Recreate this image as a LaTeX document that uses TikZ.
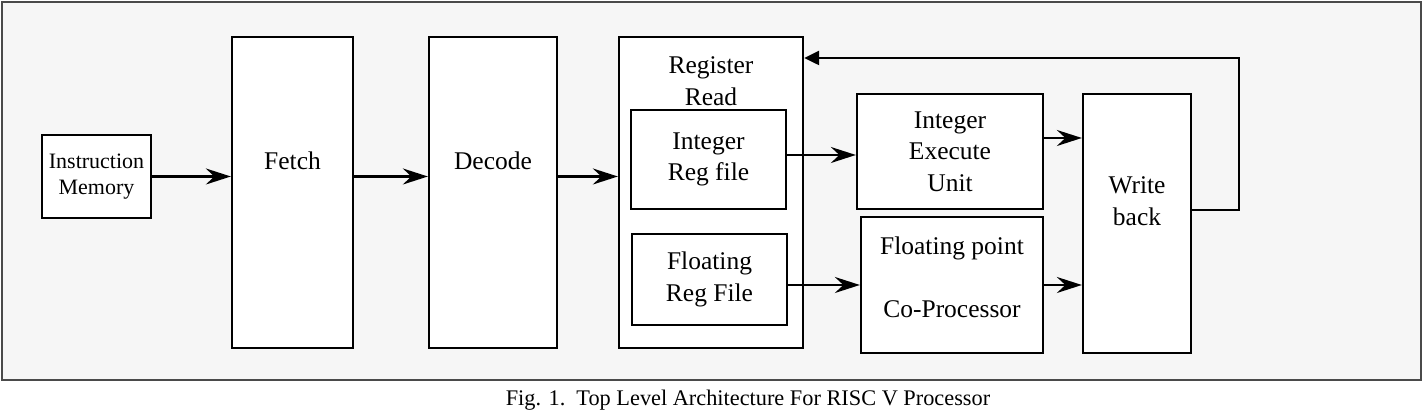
\documentclass[tikz,border=0pt]{standalone}
\usepackage{fontspec}
\setmainfont{Liberation Serif}
\usepackage{tikz}
\usetikzlibrary{arrows.meta}

\definecolor{panelgray}{HTML}{F6F6F6}
\definecolor{framegray}{HTML}{4A4A4A}

\begin{document}
\begin{tikzpicture}
		% Define box and arrow styles
		\tikzset{blk/.style={draw, fill=white, line width=1.3pt, inner sep=0pt, font=\fontsize{14.5}{18}\selectfont, align=center},
			txt/.style={font=\fontsize{14.5}{18}\selectfont, align=center},
			fwd/.style={line width=1.3pt, -{Stealth[length=0.5cm, width=0.32cm, inset=0.17cm]}},
			back/.style={line width=1.3pt, -{Triangle[length=0.3cm, width=0.28cm]}}}
		
		% Fix the size of the picture
		\useasboundingbox (0,0) rectangle (28.44,8.24);
		
		% Draw the grey panel
		\draw[framegray, fill=panelgray, line width=0.9pt] (0.04,0.64) rectangle (28.42,8.20);
		
		% Draw the pipeline boxes
		\node[blk, minimum width=2.18cm, minimum height=1.66cm, font=\fontsize{12.5}{14.8}\selectfont] (imem) at (1.93,4.71) {Instruction\\Memory};
		\node[blk, minimum width=2.42cm, minimum height=6.22cm] (fetch) at (5.85,4.39) {};
		\node[blk, minimum width=2.56cm, minimum height=6.22cm] (decode) at (9.86,4.39) {};
		\node[blk, minimum width=3.68cm, minimum height=6.22cm] (regread) at (14.22,4.39) {};
		\node[blk, minimum width=3.10cm, minimum height=1.98cm] (intreg) at (14.17,5.05) {Integer\\Reg file};
		\node[blk, minimum width=3.10cm, minimum height=1.82cm] (fltreg) at (14.19,2.65) {Floating\\Reg File};
		\node[blk, minimum width=3.72cm, minimum height=2.30cm] (intexec) at (19.00,5.21) {Integer\\Execute\\Unit};
		\node[blk, minimum width=3.64cm, minimum height=2.72cm] (fpcop) at (19.04,2.54) {};
		\node[blk, minimum width=2.16cm, minimum height=5.18cm] (wback) at (22.74,3.77) {};
		
		% Add labels of the boxes with text off centre
		\node[txt] at (5.85,5.02) {Fetch};
		\node[txt] at (9.86,5.02) {Decode};
		\node[txt] at (14.22,6.62) {Register\\Read};
		\node[txt] at (19.04,2.69) {Floating point\\ \\Co-Processor};
		\node[txt] at (22.74,4.22) {Write\\back};
		
		% Draw the forward arrows
		\draw[fwd] (imem.east) -- (imem.east -| fetch.west);
		\draw[fwd] (imem.east -| fetch.east) -- (imem.east -| decode.west);
		\draw[fwd] (imem.east -| decode.east) -- (imem.east -| regread.west);
		\draw[fwd] ([yshift=0.09cm]intreg.east) -- ([yshift=0.09cm]intreg.east -| intexec.west);
		\draw[fwd] (fpcop.west -| fltreg.east) -- (fpcop.west);
		\draw[fwd] ([yshift=0.27cm]intexec.east) -- ([yshift=0.27cm]intexec.east -| wback.west);
		\draw[fwd] (fpcop.east) -- (fpcop.east -| wback.west);
		
		% Draw the write back loop
		\coordinate (loop) at (24.78,7.08);
		\draw[back] (wback.east |- intexec.south) -| (loop) -- (loop -| regread.east);
		
		% Add the caption
		\node[font=\fontsize{12.7}{15}\selectfont] (caption) at (14.96,0.24) {Fig. 1.\ \ Top Level Architecture For RISC V Processor};
	\end{tikzpicture}
\end{document}
